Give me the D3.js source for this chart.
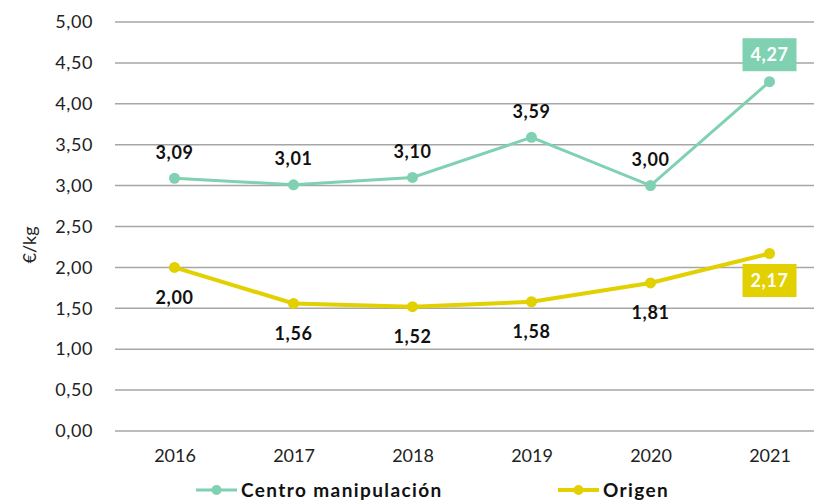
<!DOCTYPE html>
<html>
<head>
<meta charset="utf-8">
<script src="https://cdn.jsdelivr.net/npm/d3@7"></script>
<style>
  body { margin: 0; background: #fff; }
  text { font-family: "Lato", "DejaVu Sans", sans-serif; }
</style>
</head>
<body>
<svg id="chart"></svg>
<script>
// Chart data
const years = ["2016", "2017", "2018", "2019", "2020", "2021"];
const centro = [3.09, 3.01, 3.10, 3.59, 3.00, 4.27];
const origen = [2.00, 1.56, 1.52, 1.58, 1.81, 2.17];
const yTicks = [0, 0.5, 1, 1.5, 2, 2.5, 3, 3.5, 4, 4.5, 5];

const width = 814, height = 501;
const margin = { top: 22, right: 0, bottom: 70, left: 115 };

const svg = d3.select("#chart")
  .attr("width", width)
  .attr("height", height);

const fmt = v => d3.format(".2f")(v).replace(".", ",");

// Scales
const x = d3.scalePoint()
  .domain(years)
  .range([margin.left, margin.left + 714])
  .padding(0.5);

const y = d3.scaleLinear()
  .domain([0, 5])
  .range([431, margin.top]);

// Gridlines
svg.append("g")
  .selectAll("line")
  .data(yTicks)
  .enter()
  .append("line")
  .attr("x1", margin.left)
  .attr("x2", width)
  .attr("y1", d => y(d))
  .attr("y2", d => y(d))
  .attr("stroke", "#a6a6a6")
  .attr("stroke-width", 1.5);

// Y axis labels
const yAxis = d3.axisLeft(y).tickValues(yTicks).tickFormat(fmt).tickSize(0).tickPadding(22);
svg.append("g")
  .attr("transform", `translate(${margin.left}, 0)`)
  .call(yAxis)
  .call(g => g.select(".domain").remove())
  .selectAll("text")
  .attr("font-size", 18)
  .attr("letter-spacing", 0.6)
  .attr("font-family", "Lato, DejaVu Sans, sans-serif")
  .attr("fill", "#222");

// X axis labels
const xAxis = d3.axisBottom(x).tickSize(0).tickPadding(18);
svg.append("g")
  .attr("transform", `translate(0, 431)`)
  .call(xAxis)
  .call(g => g.select(".domain").remove())
  .selectAll("text")
  .attr("font-size", 18)
  .attr("font-family", "Lato, DejaVu Sans, sans-serif")
  .attr("fill", "#222");

// Y axis title
svg.append("text")
  .attr("transform", "translate(36, 245) rotate(-90)")
  .attr("text-anchor", "middle")
  .attr("font-size", 18)
  .attr("fill", "#222")
  .text("€/kg");

const series = [
  { name: "Centro manipulación", values: centro, color: "#7fd1b1", width: 3, above: true },
  { name: "Origen", values: origen, color: "#e2d000", width: 4, above: false }
];

const line = d3.line()
  .x((d, i) => x(years[i]))
  .y(d => y(d));

series.forEach(s => {
  svg.append("path")
    .datum(s.values)
    .attr("fill", "none")
    .attr("stroke", s.color)
    .attr("stroke-width", s.width)
    .attr("d", line);

  svg.append("g")
    .selectAll("circle")
    .data(s.values)
    .enter()
    .append("circle")
    .attr("cx", (d, i) => x(years[i]))
    .attr("cy", d => y(d))
    .attr("r", 5.5)
    .attr("fill", s.color);

  // Data labels
  s.values.forEach((v, i) => {
    const last = i === s.values.length - 1;
    const cx = x(years[i]);
    const cy = last ? (s.above ? y(v) - 27 : y(v) + 27) : (s.above ? y(v) - 26 : y(v) + 30);
    if (last) {
      svg.append("rect")
        .attr("x", cx - 27)
        .attr("y", cy - 16.5)
        .attr("width", 54)
        .attr("height", 33)
        .attr("fill", s.color);
    }
    svg.append("text")
      .attr("x", cx)
      .attr("y", cy)
      .attr("dy", "0.36em")
      .attr("text-anchor", "middle")
      .attr("font-size", 18)
      .attr("letter-spacing", 0.6)
      .attr("font-weight", "bold")
      .attr("fill", last ? "#fff" : "#111")
      .text(fmt(v));
  });
});

// Legend
const legend = [
  { name: series[0].name, color: series[0].color, w: 3, x: 196 },
  { name: series[1].name, color: series[1].color, w: 4, x: 558 }
];
legend.forEach(l => {
  const g = svg.append("g").attr("transform", `translate(${l.x}, 490)`);
  g.append("line")
    .attr("x1", 0).attr("x2", 41)
    .attr("stroke", l.color)
    .attr("stroke-width", l.w);
  g.append("circle")
    .attr("cx", 20.5).attr("r", 5)
    .attr("fill", l.color);
  g.append("text")
    .attr("x", 45)
    .attr("dy", "0.36em")
    .attr("font-size", 19)
    .attr("letter-spacing", 1.4)
    .attr("font-weight", "bold")
    .attr("fill", "#111")
    .text(l.name);
});
</script>
</body>
</html>
